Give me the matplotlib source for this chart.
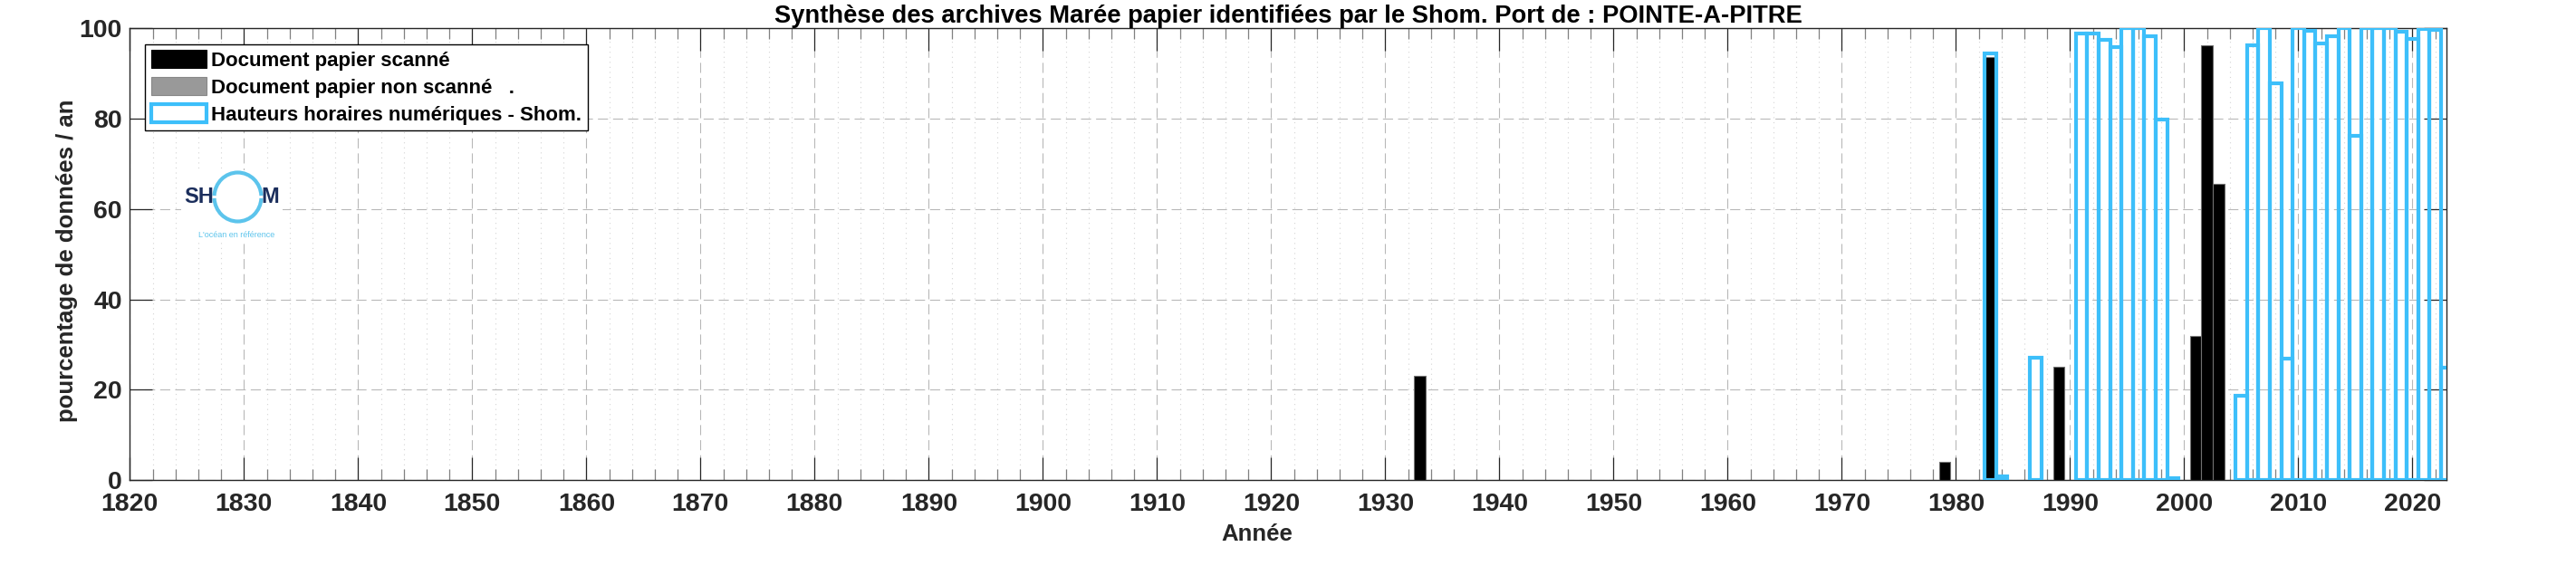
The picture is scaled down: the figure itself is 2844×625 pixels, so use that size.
import matplotlib
matplotlib.use("Agg")
import matplotlib.pyplot as plt
from matplotlib.patches import Patch, Arc, Rectangle
from matplotlib.ticker import MultipleLocator

plt.rcParams['font.family'] = ['Liberation Sans', 'DejaVu Sans']

# ---- data ----
scan_years = [1933, 1979, 1983, 1989, 2001, 2002, 2003]
scan_vals = [23.2, 4.0, 93.7, 25.1, 32.0, 96.2, 65.6]

nonscan_years = []
nonscan_vals = []

num_years = [1983, 1984, 1987,
             1991, 1992, 1993, 1994, 1995, 1996, 1997, 1998, 1999,
             2005, 2006, 2007, 2008, 2009, 2010, 2011, 2012, 2013, 2014,
             2015, 2016, 2017, 2018, 2019, 2020, 2021, 2022, 2023]
num_vals = [94.4, 0.9, 27.1,
            98.9, 98.9, 97.5, 95.8, 100.0, 100.0, 98.3, 79.8, 0.5,
            18.6, 96.2, 100.0, 87.9, 26.9, 100.0, 99.5, 96.7, 98.3, 100.0,
            76.2, 100.0, 100.0, 100.0, 99.3, 97.7, 99.8, 99.6, 24.9]

title = "Synthèse des archives Marée papier identifiées par le Shom. Port de : POINTE-A-PITRE"
xlabel = "Année"
ylabel = "pourcentage de données / an"
legend_labels = ["Document papier scanné", "Document papier non scanné   .",
                 "Hauteurs horaires numériques - Shom."]

W, H = 2844, 625
fig = plt.figure(figsize=(W / 100, H / 100), dpi=100)
L, R, T, B = 143.3, 2701.3, 31.3, 530.3
ax = fig.add_axes([L / W, (H - B) / H, (R - L) / W, (B - T) / H])

blue = '#3dbffa'
dark = '#262626'

ax.bar(scan_years, scan_vals, width=1.0, color='black', edgecolor='#707070',
       linewidth=0.8, zorder=3)
ax.bar(nonscan_years, nonscan_vals, width=1.0, color='#999999', edgecolor='#707070',
       linewidth=0.8, zorder=3)
ax.bar(num_years, num_vals, width=1.0, facecolor='none', edgecolor=blue,
       linewidth=3.0, zorder=4)

ax.set_xlim(1820, 2023)
ax.set_ylim(0, 100)
ax.xaxis.set_major_locator(MultipleLocator(10))
ax.xaxis.set_minor_locator(MultipleLocator(2))
ax.yaxis.set_major_locator(MultipleLocator(20))

ax.grid(True, which='major', color='#b8b8b8', linestyle=(0, (10, 5)), linewidth=0.8, zorder=0)
ax.grid(True, which='minor', axis='x', color='#d4d4d4', linestyle=(0, (1, 4)), linewidth=0.8, zorder=0)
ax.set_axisbelow(True)

ax.tick_params(which='major', direction='in', length=18, width=0.9, color=dark,
               top=True, right=True, labelsize=20.5, labelcolor=dark)
ax.tick_params(which='minor', direction='in', length=8.6, width=0.9, color='#808080',
               top=True, right=False, left=False)
ax.tick_params(axis='x', which='major', pad=10)
ax.tick_params(axis='y', which='major', pad=6)
for lab in ax.get_xticklabels() + ax.get_yticklabels():
    lab.set_fontweight('bold')
for s in ax.spines.values():
    s.set_color(dark)
    s.set_linewidth(1.0)

ax.set_title(title, fontsize=19.7, fontweight='bold', color='black', pad=3)
ax.set_xlabel(xlabel, fontsize=18.5, fontweight='bold', color=dark)
ax.set_ylabel(ylabel, fontsize=18.5, fontweight='bold', color=dark)
ax.xaxis.set_label_coords((1388 - L) / (R - L), (B - 578) / (B - T))
ax.yaxis.set_label_coords((86 - L) / (R - L), (B - 288) / (B - T))

handles = [Patch(facecolor='black', edgecolor='black', linewidth=0.8),
           Patch(facecolor='#999999', edgecolor='#888888', linewidth=0.8),
           Patch(facecolor='white', edgecolor=blue, linewidth=3.0)]
leg = ax.legend(handles, legend_labels, loc='upper left',
                bbox_to_anchor=((160 - L) / (R - L), (B - 48.7) / (B - T)),
                borderaxespad=0, prop={'weight': 'bold', 'size': 16},
                fancybox=False, framealpha=1, edgecolor='black',
                handlelength=2.75, handleheight=1.0, handletextpad=0.25,
                labelspacing=0.33, borderpad=0.3)
leg.get_frame().set_linewidth(1.0)
leg.set_zorder(10)

# ---- SHOM logo (figure pixel coordinates) ----
def fx(x):
    return x / W

def fy(y):
    return (H - y) / H

navy = '#1b2e5c'
light = '#5cc4ec'
fig.patches.append(Rectangle((fx(200), fy(268)), (312 - 200) / W, (268 - 188) / H,
                             transform=fig.transFigure, facecolor='white',
                             edgecolor='none', zorder=5))
cx, cy = 262.5, 217.5
fig.patches.append(Arc((fx(cx), fy(cy)), 52 / W, 54 / H, theta1=14, theta2=166,
                       transform=fig.transFigure, color=light, linewidth=3.0, zorder=6))
fig.patches.append(Arc((fx(cx), fy(cy)), 52 / W, 54 / H, theta1=194, theta2=346,
                       transform=fig.transFigure, color=light, linewidth=3.0, zorder=6))
fig.text(fx(236), fy(218), "SH", ha='right', va='center', fontsize=17,
         fontweight='bold', color=navy, zorder=7)
fig.text(fx(288), fy(218), "M", ha='left', va='center', fontsize=17,
         fontweight='bold', color=navy, zorder=7)
fig.text(fx(261), fy(260), "L'océan en référence", ha='center', va='center',
         fontsize=6.5, color=light, zorder=7)

fig.savefig("out.png", dpi=100)
